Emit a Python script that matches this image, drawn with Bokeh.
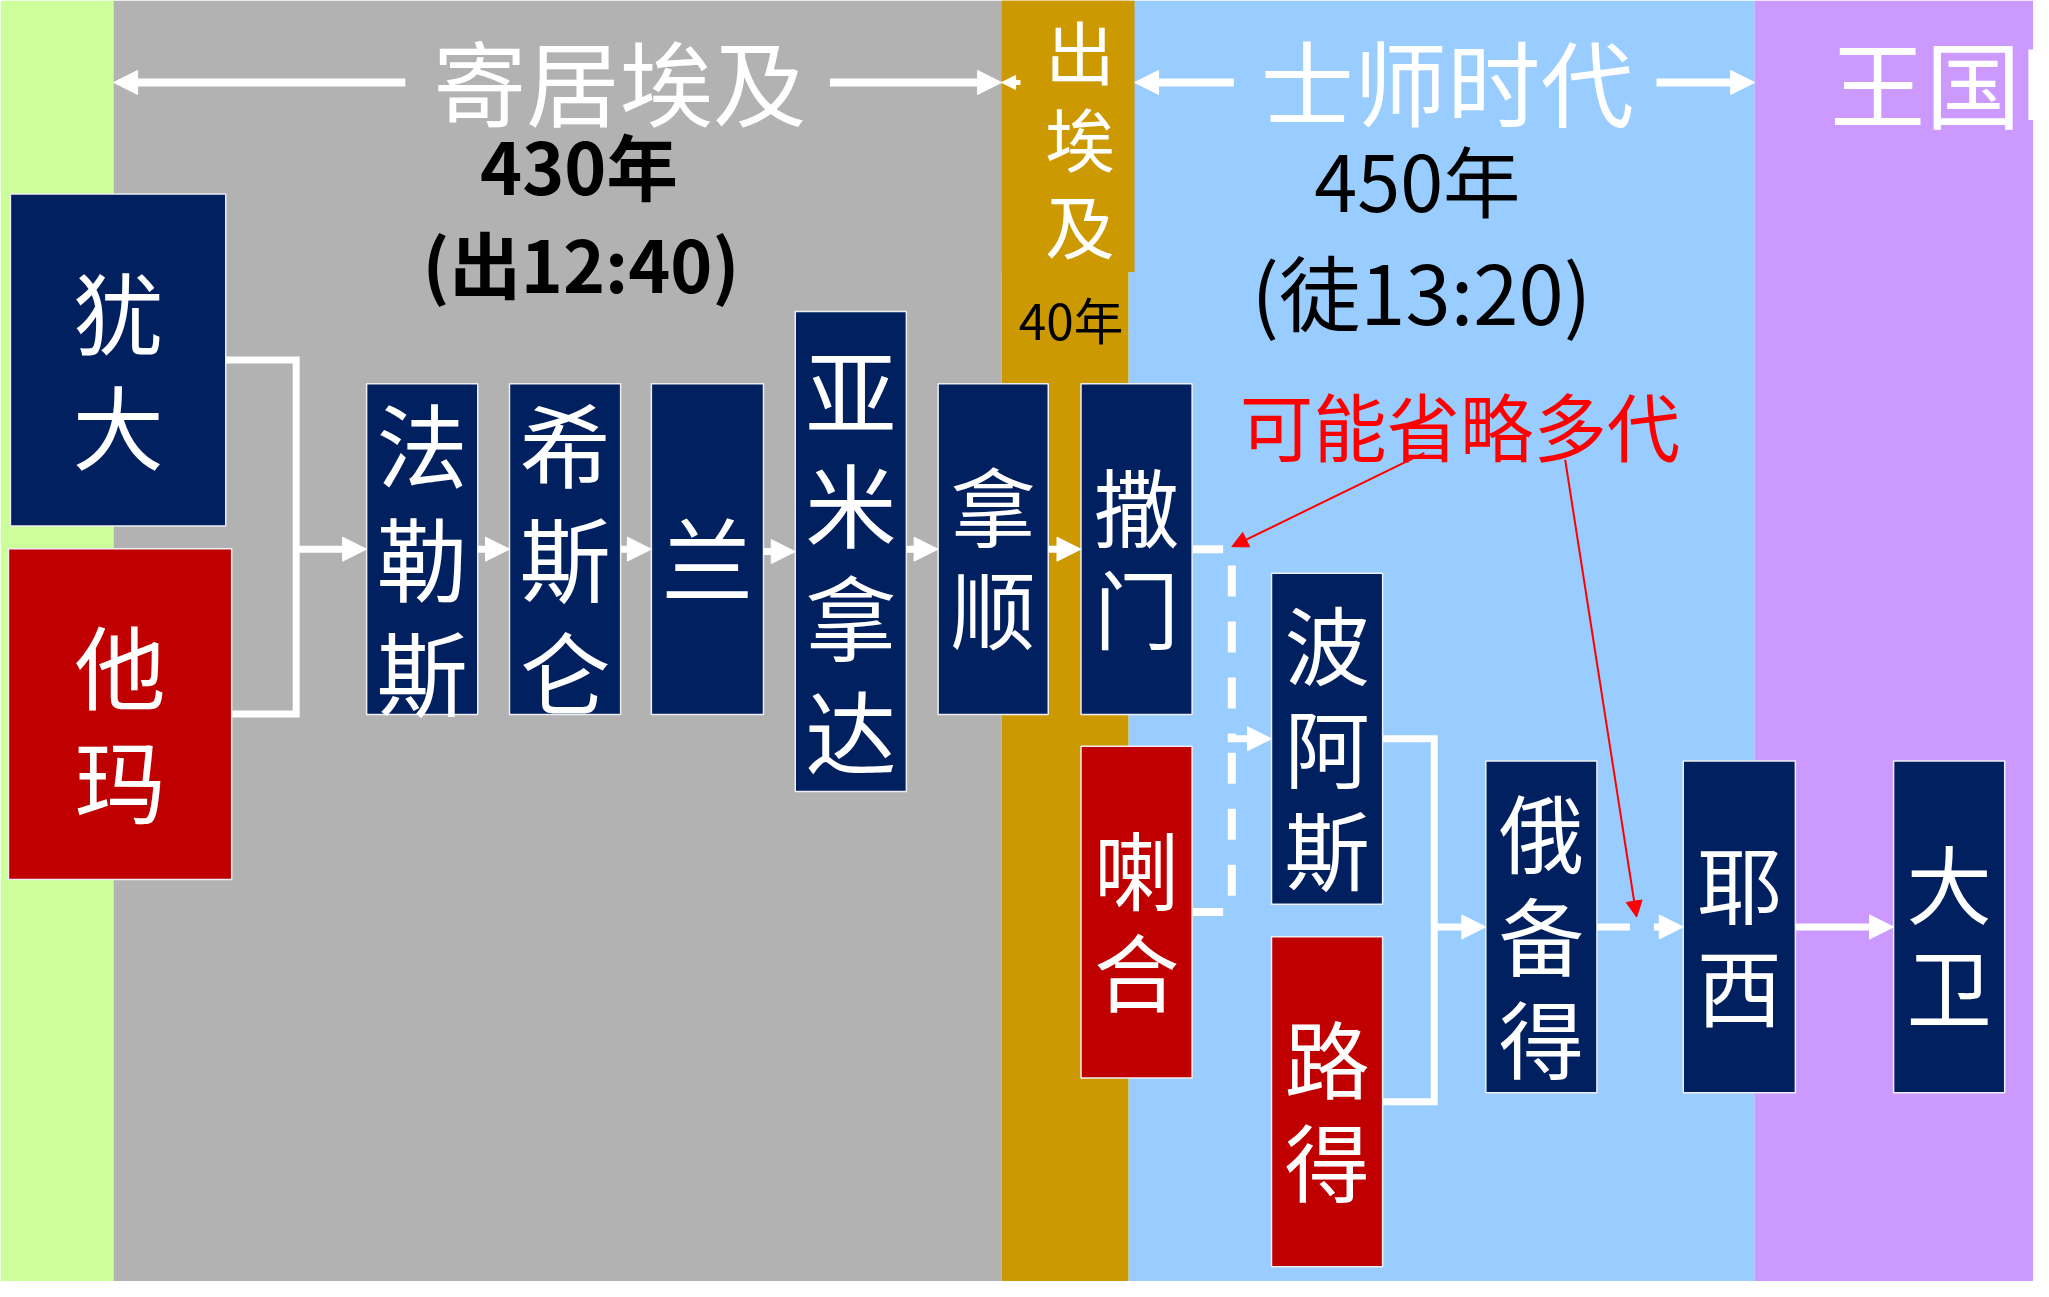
from bokeh.plotting import figure
from bokeh.models import Range1d, ColumnDataSource, Arrow, NormalHead
from bokeh.core.properties import value, field
from bokeh.embed import file_html
from bokeh.resources import INLINE

# ---------------- reference canvas (data units = reference pixels) ----------------
REF_W, REF_H = 2049, 1297
PW, PH = 2033, 1281
S = PW / REF_W
FONT = "Noto Sans CJK SC"

# ---------------- era bands ----------------
band_start = [0, 114, 1009, 1137, 1768]
band_end = [114, 1009, 1137, 1768, 2049]
band_colors = ["#CCFF99", "#B2B2B2", "#CC9900", "#99CCFF", "#CC99FF"]

# ---------------- era labels ----------------
era_labels = ["寄居埃及", "士师时代"]
era_label_x = [624, 1458]
era_years = ["430年", "450年"]
era_refs = ["(出12:40)", "(徒13:20)"]
exodus_label = "出埃及"
exodus_years = "40年"
kingdom_label = "王国时代"
note_label = "可能省略多代"

# ---------------- genealogy boxes ----------------
names = ["犹大", "他玛", "法勒斯", "希斯仑", "兰", "亚米拿达", "拿顺",
         "撒门", "喇合", "波阿斯", "路得", "俄备得", "耶西", "大卫"]
box_left = [10, 8, 369, 513, 656, 801, 945, 1089, 1089, 1281, 1281, 1497, 1696, 1908]
box_right = [227, 233, 481, 625, 769, 913, 1056, 1201, 1201, 1393, 1393, 1609, 1809, 2020]
box_top = [196, 555, 388, 388, 388, 315, 388, 388, 755, 580, 948, 770, 770, 770]
box_bottom = [532, 890, 723, 723, 723, 801, 723, 723, 1091, 915, 1282, 1106, 1106, 1106]
is_woman = [0, 1, 0, 0, 0, 0, 0, 0, 1, 0, 1, 0, 0, 0]
char_px = [92, 92, 92, 92, 92, 92, 86, 86, 86, 86, 86, 86, 86, 86]
char_pitch = [115, 115, 115, 115, 115, 115, 104, 104, 104, 104, 104, 104, 104, 104]

# links: (sources, target, dashed)
merges = [([0, 1], 2, False), ([7, 8], 9, True), ([9, 10], 11, False)]
chain = [(2, 3), (3, 4), (4, 5), (5, 6), (6, 7), (12, 13)]
dashed_chain = [(11, 12)]

# red annotation arrows: start points (under the note) -> points of omitted generations
note_from_x = [1435, 1577]
note_from_y = [458, 465]
note_to_x = [1241, 1649]
note_to_y = [553, 928]

MALE, WOMAN = "#002060", "#C00000"
WHITE = "white"

p = figure(width=PW, height=PH, x_range=Range1d(0, REF_W), y_range=Range1d(REF_H, 0),
           output_backend="svg", toolbar_location=None, x_axis_type=None, y_axis_type=None,
           min_border=0)
p.grid.visible = False
p.outline_line_color = None
p.background_fill_color = "white"

# bands
p.quad(left=band_start, right=band_end, top=[0] * 5, bottom=[REF_H] * 5,
       fill_color=band_colors, line_color=None)
# exodus label panel (slightly wider top part of the gold band)
p.quad(left=[band_start[2]], right=[1143], top=[0], bottom=[275],
       fill_color=band_colors[2], line_color=None)

def fs(px):
    return f"{px * S:.1f}px"

def cx(i):
    return (box_left[i] + box_right[i]) / 2

def cy(i):
    return (box_top[i] + box_bottom[i]) / 2

# ---------------- connectors ----------------
LW = 7
solid_x, solid_y = [], []
dash_x, dash_y = [], []
arr = dict(x0=[], y0=[], x1=[], y1=[])

for srcs, tgt, dashed in merges:
    a, b = srcs
    mx = (box_right[a] + box_left[tgt]) / 2
    ty = cy(tgt)
    if dashed:
        for s in srcs:
            dash_x.append([box_right[s], mx, mx])
            dash_y.append([cy(s), cy(s), ty])
        arr["x0"].append(mx - 4)
    else:
        solid_x.append([box_right[a], mx, mx, box_right[b]])
        solid_y.append([cy(a), cy(a), cy(b), cy(b)])
        arr["x0"].append(mx)
    arr["y0"].append(ty)
    arr["x1"].append(box_left[tgt])
    arr["y1"].append(ty)

for s, t in chain:
    arr["x0"].append(box_right[s]); arr["y0"].append(cy(t))
    arr["x1"].append(box_left[t]); arr["y1"].append(cy(t))

p.multi_line(xs=solid_x, ys=solid_y, line_color=WHITE, line_width=LW, line_join="miter")
p.multi_line(xs=dash_x, ys=dash_y, line_color=WHITE, line_width=8, line_join="miter",
             line_dash="31 25")

def add_arrows(data, size, color, width, dash="solid"):
    src = ColumnDataSource(data)
    p.add_layout(Arrow(end=NormalHead(size=size, fill_color=color, line_color=color, line_width=1),
                       x_start="x0", y_start="y0", x_end="x1", y_end="y1", source=src,
                       line_color=color, line_width=width, line_dash=dash))

add_arrows(arr, 24, WHITE, LW)
dc = dict(x0=[box_right[s] for s, t in dashed_chain], y0=[cy(s) for s, t in dashed_chain],
          x1=[box_left[t] for s, t in dashed_chain], y1=[cy(t) for s, t in dashed_chain])
add_arrows(dc, 24, WHITE, LW, dash="33 24")

# header span arrows
HY = 83
add_arrows(dict(x0=[408, 836, 1243, 1669], y0=[HY] * 4,
                x1=[band_start[1], band_start[2], 1143, band_start[4]], y1=[HY] * 4), 24, WHITE, 8)
add_arrows(dict(x0=[1028], y0=[HY], x1=[band_start[2]], y1=[HY]), 14, WHITE, 5)

# ---------------- boxes ----------------
p.quad(left=box_left, right=box_right, top=box_top, bottom=box_bottom,
       fill_color=[WOMAN if w else MALE for w in is_woman], line_color="#EEEEF4", line_width=1.5)

TEXT_DY = 6
tx, ty_, tt, tsz = [], [], [], []
for i, nm in enumerate(names):
    n = len(nm)
    for k, c in enumerate(nm):
        tx.append(cx(i))
        ty_.append(cy(i) + (k - (n - 1) / 2) * char_pitch[i] + TEXT_DY)
        tt.append(c)
        tsz.append(fs(char_px[i]))
p.text(x="x", y="y", text="t", source=ColumnDataSource(dict(x=tx, y=ty_, t=tt, s=tsz)),
       text_font=value(FONT), text_font_size=field("s"), text_color=WHITE,
       text_align="center", text_baseline="middle")

# ---------------- labels ----------------
p.text(x=era_label_x, y=[80, 80], text=era_labels, text_font=value(FONT),
       text_font_size=fs(94), text_color=WHITE, text_align="center", text_baseline="middle")
p.text(x=[1844], y=[80], text=[kingdom_label], text_font=value(FONT),
       text_font_size=fs(96), text_color=WHITE, text_align="left", text_baseline="middle")

p.text(x=[583], y=[166], text=[era_years[0]], text_font=value(FONT), text_font_size=fs(72),
       text_font_style="bold", text_color="black", text_align="center", text_baseline="middle")
p.text(x=[585], y=[265], text=[era_refs[0]], text_font=value(FONT), text_font_size=fs(72),
       text_font_style="bold", text_color="black", text_align="center", text_baseline="middle")
p.text(x=[1428], y=[180], text=[era_years[1]], text_font=value(FONT), text_font_size=fs(78),
       text_color="black", text_align="center", text_baseline="middle")
p.text(x=[1432], y=[293], text=[era_refs[1]], text_font=value(FONT), text_font_size=fs(82),
       text_color="black", text_align="center", text_baseline="middle")

p.text(x=[1088] * 3, y=[50, 138, 226], text=list(exodus_label), text_font=value(FONT),
       text_font_size=fs(70), text_color=WHITE, text_align="center", text_baseline="middle")
p.text(x=[1079], y=[321], text=[exodus_years], text_font=value(FONT), text_font_size=fs(50),
       text_color="black", text_align="center", text_baseline="middle")

p.text(x=[1471], y=[429], text=[note_label], text_font=value(FONT), text_font_size=fs(74),
       text_color="#FF0000", text_align="center", text_baseline="middle")
add_arrows(dict(x0=note_from_x, y0=note_from_y, x1=note_to_x, y1=note_to_y), 16, "#FF0000", 2)

open("out.html", "w").write(file_html(p, INLINE))
